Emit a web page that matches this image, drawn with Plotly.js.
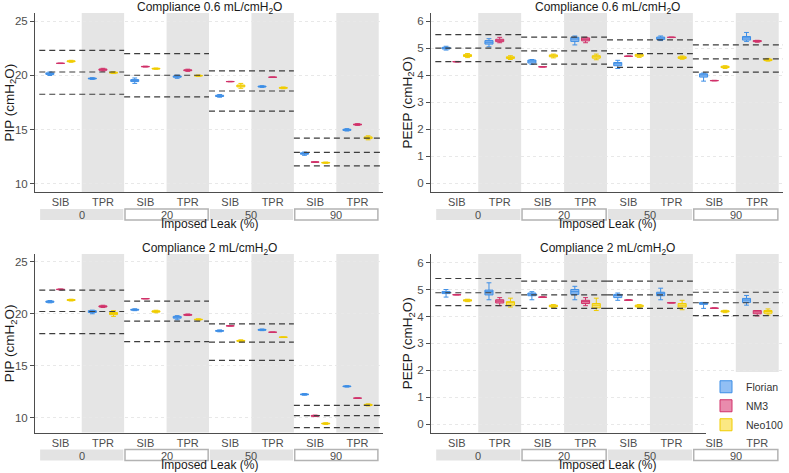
<!DOCTYPE html>
<html><head><meta charset="utf-8">
<script src="https://cdn.plot.ly/plotly-3.0.1.min.js"></script>
<style>html,body{margin:0;padding:0;background:#fff}#chart{width:789px;height:473px}</style>
</head><body><div id="chart"></div>
<script>
// ---------- categories ----------
const xLabels = ['SIB','TPR','SIB','TPR','SIB','TPR','SIB','TPR'];
const leakLevels = ['0','20','50','90'];
const seriesNames = ['Florian','NM3','Neo100'];

// ---------- box statistics: [lower whisker, Q1, median, Q3, upper whisker] per position ----------
// PIP, compliance 0.6
const pip06Florian = [[19.98,20.08,20.15,20.22,20.30],[19.62,19.66,19.70,19.74,19.78],[19.25,19.42,19.50,19.60,19.75],[19.72,19.82,19.88,19.94,20.02],[17.98,18.04,18.10,18.16,18.22],[18.88,18.92,18.96,19.00,19.04],[12.62,12.72,12.79,12.85,12.92],[14.86,14.92,14.97,15.02,15.08]];
const pip06NM3     = [[21.08,21.09,21.10,21.11,21.12],[20.38,20.46,20.52,20.58,20.64],[20.76,20.78,20.80,20.82,20.84],[20.36,20.42,20.46,20.50,20.56],[19.40,19.41,19.42,19.43,19.44],[19.80,19.81,19.82,19.83,19.84],[11.98,11.99,12.00,12.01,12.02],[15.38,15.42,15.46,15.50,15.54]];
const pip06Neo100  = [[21.20,21.25,21.29,21.33,21.38],[20.16,20.20,20.24,20.28,20.32],[20.55,20.58,20.61,20.64,20.67],[19.90,19.93,19.96,19.99,20.02],[18.80,18.93,19.02,19.10,19.25],[18.76,18.80,18.84,18.88,18.92],[11.88,11.91,11.94,11.97,12.00],[14.05,14.16,14.24,14.32,14.42]];
// PEEP, compliance 0.6
const peep06Florian = [[4.93,4.97,5.00,5.03,5.07],[5.05,5.15,5.22,5.28,5.35],[4.40,4.45,4.52,4.56,4.58],[5.12,5.25,5.34,5.40,5.45],[4.25,4.35,4.42,4.47,4.55],[5.28,5.32,5.37,5.41,5.45],[3.78,3.93,4.01,4.05,4.08],[5.25,5.30,5.38,5.43,5.58]];
const peep06NM3     = [[4.49,4.495,4.50,4.505,4.51],[5.20,5.24,5.30,5.33,5.40],[4.30,4.305,4.31,4.315,4.32],[5.20,5.27,5.33,5.38,5.40],[4.69,4.695,4.70,4.705,4.71],[5.39,5.395,5.40,5.405,5.41],[3.79,3.795,3.80,3.805,3.81],[5.22,5.24,5.26,5.28,5.29]];
const peep06Neo100  = [[4.65,4.69,4.73,4.76,4.80],[4.58,4.62,4.65,4.68,4.72],[4.64,4.68,4.72,4.75,4.78],[4.57,4.63,4.68,4.72,4.78],[4.66,4.70,4.74,4.77,4.80],[4.59,4.62,4.65,4.68,4.71],[4.25,4.28,4.30,4.33,4.35],[4.52,4.54,4.56,4.59,4.62]];
// PIP, compliance 2
const pip2Florian = [[21.05,21.10,21.16,21.22,21.27],[20.00,20.12,20.22,20.30,20.35],[20.30,20.35,20.39,20.43,20.48],[19.42,19.58,19.68,19.75,19.82],[18.27,18.32,18.36,18.40,18.45],[18.38,18.42,18.46,18.50,18.54],[12.18,12.22,12.26,12.30,12.34],[12.96,13.00,13.03,13.06,13.10]];
const pip2NM3     = [[22.30,22.32,22.34,22.36,22.38],[20.60,20.65,20.70,20.76,20.82],[21.44,21.445,21.45,21.455,21.46],[19.83,19.86,19.90,19.94,19.98],[18.83,18.835,18.84,18.845,18.85],[18.22,18.225,18.23,18.235,18.24],[10.13,10.16,10.20,10.24,10.27],[11.89,11.895,11.90,11.905,11.91]];
const pip2Neo100  = [[21.23,21.28,21.32,21.36,21.40],[19.75,19.92,20.03,20.12,20.30],[20.10,20.16,20.22,20.28,20.34],[19.38,19.42,19.45,19.48,19.52],[17.30,17.36,17.40,17.44,17.50],[17.72,17.74,17.75,17.77,17.78],[9.38,9.42,9.46,9.50,9.54],[11.15,11.20,11.25,11.30,11.35]];
// PEEP, compliance 2
const peep2Florian = [[4.72,4.85,4.90,4.93,5.00],[4.62,4.80,4.92,4.98,5.25],[4.62,4.77,4.83,4.87,4.92],[4.62,4.82,4.92,5.00,5.12],[4.60,4.70,4.78,4.82,4.87],[4.62,4.77,4.87,4.90,5.05],[4.30,4.45,4.48,4.52,4.52],[4.42,4.52,4.61,4.67,4.78]];
const peep2NM3     = [[4.80,4.80,4.81,4.81,4.82],[4.40,4.50,4.57,4.62,4.70],[4.71,4.71,4.72,4.72,4.73],[4.40,4.48,4.55,4.60,4.70],[4.60,4.60,4.61,4.61,4.62],[4.50,4.50,4.51,4.51,4.52],[4.30,4.30,4.31,4.31,4.32],[4.02,4.10,4.17,4.22,4.22]];
const peep2Neo100  = [[4.55,4.57,4.60,4.62,4.64],[4.35,4.42,4.52,4.55,4.68],[4.33,4.36,4.39,4.42,4.44],[4.22,4.32,4.42,4.48,4.68],[4.34,4.36,4.39,4.42,4.44],[4.25,4.35,4.42,4.48,4.60],[4.14,4.17,4.19,4.21,4.23],[4.05,4.12,4.19,4.22,4.28]];

// ---------- reference (dashed) levels per imposed leak: upper / target / lower ----------
const pip06Upper = [22.30, 22.00, 20.40, 14.20];
const pip06Mid   = [20.30, 20.00, 18.55, 12.90];
const pip06Lower = [18.25, 18.00, 16.70, 11.65];
const peep06Upper = [5.50, 5.41, 5.31, 5.12];
const peep06Mid   = [5.00, 4.90, 4.80, 4.60];
const peep06Lower = [4.50, 4.41, 4.29, 4.11];
const pip2Upper = [22.28, 21.22, 19.04, 11.20];
const pip2Mid   = [20.22, 19.30, 17.27, 10.23];
const pip2Lower = [18.10, 17.33, 15.53, 9.07];
const peep2Upper = [5.41, 5.31, 5.31, 4.90];
const peep2Mid   = [4.88, 4.80, 4.80, 4.51];
const peep2Lower = [4.40, 4.30, 4.30, 4.03];

// ---------- styling ----------
const lineColors = ['#3d8ee6', '#d1326a', '#f0cc00'];
const fillColors = ['rgba(110,170,240,0.75)', 'rgba(226,100,145,0.75)', 'rgba(250,224,90,0.75)'];
const FONT = 'Liberation Sans, Arial, Helvetica, sans-serif';
const AX = '#4d4d4d';
const xRange = [-0.6, 7.6];
const positions = xLabels.map((_, i) => i);

const panels = [
  {sfx:'',  data:[pip06Florian, pip06NM3, pip06Neo100],   up:pip06Upper, mid:pip06Mid, lo:pip06Lower,
   xdom:[0.0444,0.4854], ydom:[0.5941,0.9725], yr:[9.24,25.74], dtick:5,
   title:'Compliance 0.6 mL/cmH<sub>2</sub>O', ytitle:'PIP (cmH<sub>2</sub>O)'},
  {sfx:'2', data:[peep06Florian, peep06NM3, peep06Neo100], up:peep06Upper, mid:peep06Mid, lo:peep06Lower,
   xdom:[0.5463,0.9924], ydom:[0.5941,0.9725], yr:[-0.32,6.30], dtick:1,
   title:'Compliance 0.6 mL/cmH<sub>2</sub>O', ytitle:'PEEP (cmH<sub>2</sub>O)'},
  {sfx:'3', data:[pip2Florian, pip2NM3, pip2Neo100],       up:pip2Upper, mid:pip2Mid, lo:pip2Lower,
   xdom:[0.0444,0.4854], ydom:[0.0856,0.4630], yr:[8.60,25.74], dtick:5,
   title:'Compliance 2 mL/cmH<sub>2</sub>O', ytitle:'PIP (cmH<sub>2</sub>O)'},
  {sfx:'4', data:[peep2Florian, peep2NM3, peep2Neo100],    up:peep2Upper, mid:peep2Mid, lo:peep2Lower,
   xdom:[0.5463,0.9924], ydom:[0.0856,0.4630], yr:[-0.31,6.32], dtick:1,
   title:'Compliance 2 mL/cmH<sub>2</sub>O', ytitle:'PEEP (cmH<sub>2</sub>O)'}
];

const traces = [];
const shapes = [];
const annotations = [];
const layout = {
  width: 789, height: 473,
  margin: {l:0, r:0, t:0, b:0},
  paper_bgcolor: '#ffffff', plot_bgcolor: '#ffffff',
  font: {family: FONT, size: 11, color: AX},
  boxmode: 'group', boxgap: 0.25, boxgroupgap: 0.25,
  showlegend: true,
  legend: {x: 706/789, y: 0.213, xanchor: 'left', yanchor: 'top', bgcolor: '#ffffff',
           font: {family: FONT, size: 10.5, color: '#333333'}, tracegroupgap: 0},
  shapes: shapes, annotations: annotations
};

panels.forEach((p, pi) => {
  const xa = 'x' + p.sfx, ya = 'y' + p.sfx;
  layout['xaxis' + p.sfx] = {
    domain: p.xdom, anchor: ya, range: xRange, tickmode: 'array', tickvals: positions, ticktext: xLabels,
    showline: true, linecolor: AX, linewidth: 1, ticks: '', showgrid: false, zeroline: false,
    tickfont: {size: 11, color: AX}, fixedrange: true
  };
  layout['yaxis' + p.sfx] = {
    domain: p.ydom, anchor: xa, range: p.yr, dtick: p.dtick, tick0: 0,
    showline: true, linecolor: AX, linewidth: 1, ticks: 'outside', ticklen: 4, tickcolor: AX,
    showgrid: true, gridcolor: '#e8e8e8', griddash: 'dot', gridwidth: 1, zeroline: false,
    tickfont: {size: 11.5, color: AX}, fixedrange: true
  };

  // boxes
  p.data.forEach((d, si) => {
    traces.push({
      type: 'box', name: seriesNames[si], x: positions,
      lowerfence: d.map(r => r[0]), q1: d.map(r => r[1]), median: d.map(r => r[2]),
      q3: d.map(r => r[3]), upperfence: d.map(r => r[4]),
      xaxis: xa, yaxis: ya, offsetgroup: seriesNames[si], legendgroup: seriesNames[si],
      showlegend: pi === 0, boxpoints: false, whiskerwidth: 0.6,
      line: {color: lineColors[si], width: 1}, fillcolor: fillColors[si], hoverinfo: 'skip'
    });
  });

  const y0p = p.ydom[0], y1p = p.ydom[1];
  const pxH = 473;
  leakLevels.forEach((lv, g) => {
    // gray band behind TPR
    shapes.push({type: 'rect', xref: xa, yref: ya + ' domain', x0: 2*g + 0.5, x1: 2*g + 1.5, y0: 0, y1: 1,
                 fillcolor: '#e5e5e5', line: {width: 0}, layer: 'below'});
    // dashed reference lines
    const xEnd = g === leakLevels.length - 1 ? xRange[1] : 2*g + 1.5;
    [p.up[g], p.mid[g], p.lo[g]].forEach(v => {
      shapes.push({type: 'line', xref: xa, yref: ya, x0: 2*g - 0.5, x1: xEnd, y0: v, y1: v,
                   line: {color: '#3d3d3d', width: 1.2, dash: '6px,4px'}, layer: 'above'});
    });
    // strip for imposed leak level
    const sy1 = y0p - 17/pxH, sy0 = y0p - 28/pxH;
    const gray = g % 2 === 0;
    shapes.push({type: 'rect', xref: xa, yref: 'paper', x0: 2*g - 0.48, x1: 2*g + 1.48, y0: sy0, y1: sy1,
                 fillcolor: gray ? '#e3e3e3' : '#ffffff',
                 line: {width: gray ? 0 : 1.5, color: '#b3b3b3'}, layer: 'below'});
    annotations.push({xref: xa, yref: 'paper', x: 2*g + 0.5, y: (sy0 + sy1)/2 - 1/pxH, text: lv, showarrow: false,
                      xanchor: 'center', yanchor: 'middle', font: {size: 11, color: AX}});
  });

  // panel title
  annotations.push({xref: 'paper', yref: 'paper', x: (p.xdom[0] + p.xdom[1])/2, y: y1p + 5.5/pxH,
                    text: p.title, showarrow: false, xanchor: 'center', yanchor: 'middle',
                    font: {size: 12, color: '#1a1a1a'}});
  // y title
  annotations.push({xref: 'paper', yref: 'paper', x: (pi % 2 === 0 ? 10 : 408)/789, y: (y0p + y1p)/2,
                    text: p.ytitle, showarrow: false, textangle: -90, xanchor: 'center', yanchor: 'middle',
                    font: {size: 13.5, color: '#1a1a1a'}});
  // x title
  annotations.push({xref: 'paper', yref: 'paper', x: (p.xdom[0] + p.xdom[1])/2, y: y0p - 32.5/pxH,
                    text: 'Imposed Leak (%)', showarrow: false, xanchor: 'center', yanchor: 'middle',
                    font: {size: 12, color: '#1a1a1a'}});
});

Plotly.newPlot('chart', traces, layout, {staticPlot: true, displayModeBar: false});
</script>
</body></html>
